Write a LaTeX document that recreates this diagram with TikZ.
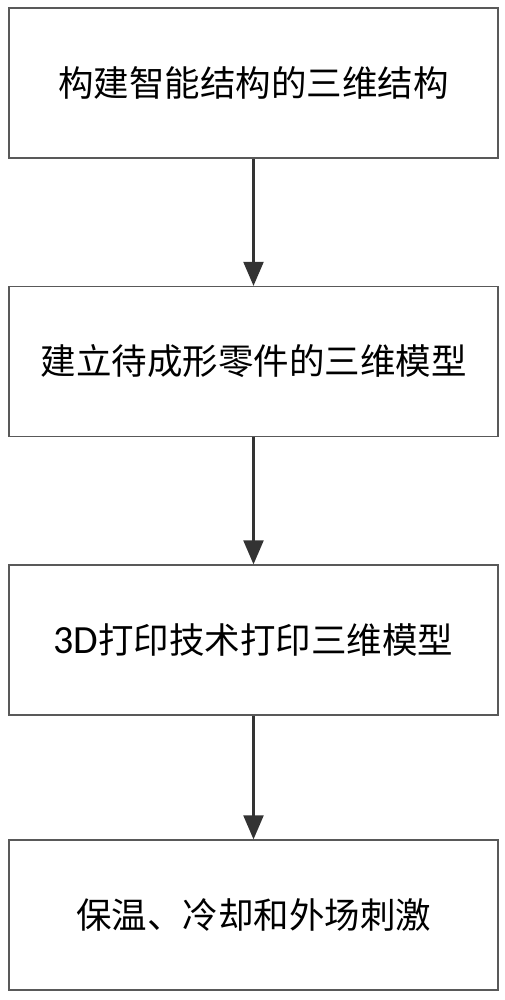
\documentclass[tikz,border=0pt]{standalone}
\usepackage{fontspec}
\newfontfamily\cjk{Noto Sans CJK SC}
\newfontfamily\latf{Carlito}
\usetikzlibrary{arrows.meta}
\begin{document}
\begin{tikzpicture}[x=1pt,y=1pt,
  stepbox/.style={draw=black!65,line width=1.3pt,minimum width=489pt,minimum height=150pt,inner sep=0pt,font=\cjk\fontsize{35.5}{42}\selectfont,text=black},
  flowarrow/.style={draw=black!80,line width=2.2pt,-{Triangle[width=20pt,length=24pt]}}]
\useasboundingbox (0,0) rectangle (505,-1000);
\node[stepbox] (b1) at (253.5,-83) {构建智能结构的三维结构};
\node[stepbox] (b2) at (253.5,-361.5) {建立待成形零件的三维模型};
\node[stepbox] (b3) at (253.5,-640) {{\latf\fontsize{40}{42}\selectfont 3D}打印技术打印三维模型};
\node[stepbox] (b4) at (253.5,-915) {保温、冷却和外场刺激};
\draw[flowarrow] (b1.south) -- (b2.north);
\draw[flowarrow] (b2.south) -- (b3.north);
\draw[flowarrow] (b3.south) -- (b4.north);
\end{tikzpicture}
\end{document}
